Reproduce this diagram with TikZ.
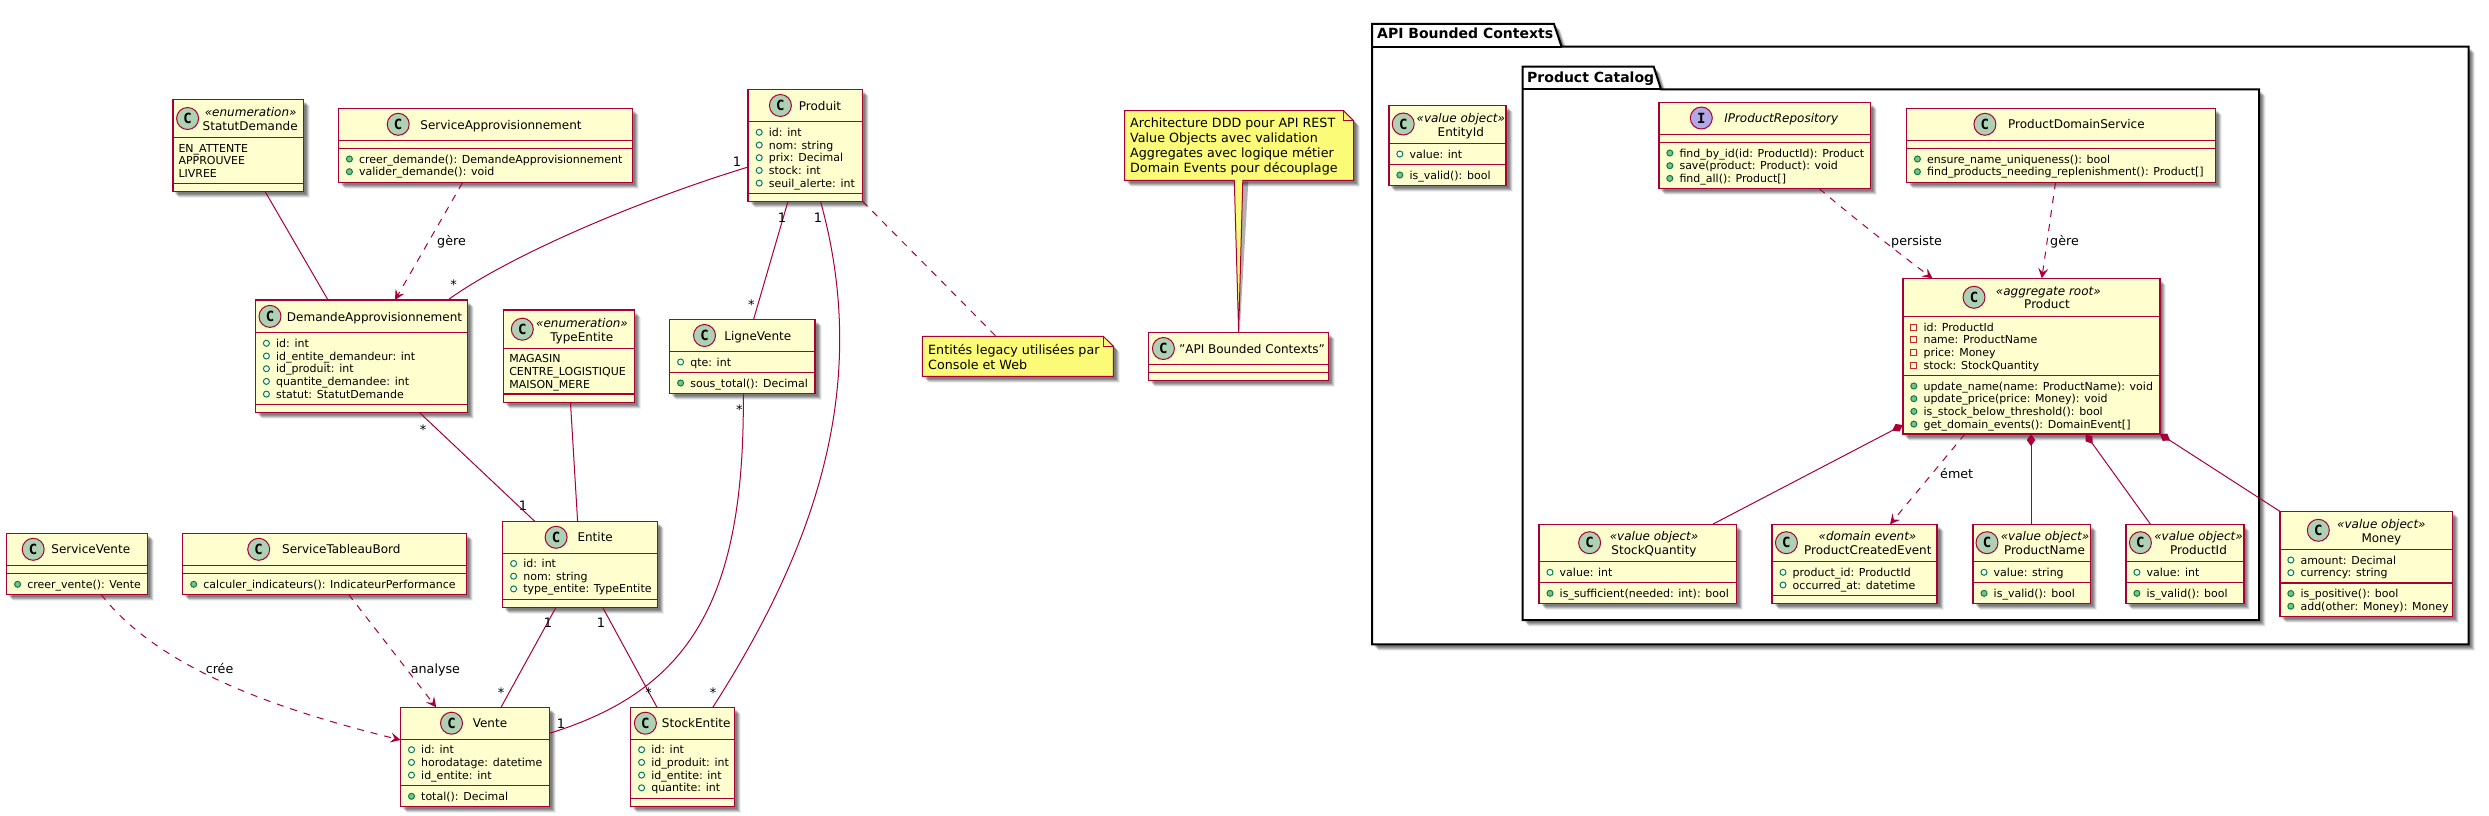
\documentclass[tikz,border=0pt]{standalone}
\usepackage{fontspec}
\setmainfont{DejaVu Sans}
\newfontfamily\monof{DejaVu Sans Mono}
\usetikzlibrary{arrows.meta,shadows,calc}
\definecolor{umlred}{HTML}{A80036}
\definecolor{umlfill}{HTML}{FEFECE}
\definecolor{umlcirc}{HTML}{ADD1B2}
\definecolor{umlifc}{HTML}{B4A7E5}
\definecolor{umlnote}{HTML}{FBFB77}
\definecolor{icong}{HTML}{038048}
\definecolor{iconm}{HTML}{84BE84}
\definecolor{iconp}{HTML}{C82930}
\newcount\rowcnt
\newcount\rowid
\def\rowx{0}\def\rowy{0}
\tikzset{
 softshadow/.style={
  general shadow={shadow xshift=2.5pt,shadow yshift=-2.5pt,fill=black,opacity=.14},
  general shadow={shadow xshift=3.5pt,shadow yshift=-3.5pt,fill=black,opacity=.16},
  general shadow={shadow xshift=4.5pt,shadow yshift=-4.5pt,fill=black,opacity=.16},
  general shadow={shadow xshift=5.5pt,shadow yshift=-5.5pt,fill=black,opacity=.12},
  general shadow={shadow xshift=6.5pt,shadow yshift=-6.5pt,fill=black,opacity=.06}},
 classbox/.style={rectangle,draw=umlred,fill=umlfill,line width=1.5pt,inner sep=0pt,outer sep=0pt,anchor=north west,softshadow},
 sepline/.style={draw=umlred,line width=1.5pt},
 badge/.style={circle,draw=umlred,line width=1pt,minimum size=22pt,inner sep=0pt,font=\monof\bfseries\fontsize{14}{14}\selectfont},
 nametext/.style={anchor=base,inner sep=0pt,font=\fontsize{12}{14}\selectfont},
 stereotext/.style={anchor=base,inner sep=0pt,font=\itshape\fontsize{12}{14}\selectfont},
 rowtext/.style={anchor=base west,inner sep=0pt,font=\fontsize{11}{13}\selectfont},
 linktext/.style={anchor=base west,inner sep=0pt,font=\fontsize{12.7}{15}\selectfont},
 multtext/.style={anchor=center,inner sep=0pt,font=\fontsize{13}{15}\selectfont},
 notetext/.style={anchor=base west,inner sep=0pt,font=\fontsize{12.7}{15}\selectfont},
 pkgtext/.style={anchor=base west,inner sep=0pt,font=\bfseries\fontsize{14}{16}\selectfont},
 pkgshape/.style={draw=black,line width=2pt,fill=white,softshadow},
 noteshape/.style={draw=umlred,line width=1pt,fill=umlnote,softshadow},
 assoc/.style={draw=umlred,line width=1pt},
 depend/.style={draw=umlred,line width=1pt,dash pattern=on 7pt off 7pt,-{Stealth[length=10pt,width=10pt,inset=4pt,fill=umlred,sep=0pt]}},
 notelink/.style={draw=umlred,line width=1pt,dash pattern=on 7pt off 7pt},
 compo/.style={draw=umlred,line width=1pt,{Diamond[length=12pt,width=8.5pt,fill=umlred]}-},
}
% id x1 y1 x2 y2 sep1 sep2
\newcommand\clsbox[7]{%
 \node[classbox,minimum width={(#4-#2)*1pt},minimum height={(#5-#3)*1pt}] (#1) at (#2,#3) {};
 \draw[sepline] (#2,#6) -- (#4,#6);
 \draw[sepline] (#2,#7) -- (#4,#7);
}
% id cx cy tx ty name
\newcommand\clshead[6]{%
 \node[badge,fill=umlcirc] (#1c) at (#2,#3) {C};
 \node[nametext] (#1n) at (#4,#5+4.5) {#6};
}
% id x y text
\newcommand\clsster[4]{\node[stereotext] (#1s) at (#2,#3+4.5) {#4};}
\newcommand\startrows[2]{\def\rowx{#1}\def\rowy{#2}\rowcnt=0 }
\newcommand\nextrow{\global\advance\rowid by 1 \advance\rowcnt by 1 }
\newcommand\rowF[1]{%
 \node[circle,draw=icong,fill=white,line width=1pt,minimum size=6pt,inner sep=0pt] (ic\the\rowid) at (\rowx+11,\rowy+12.7*\the\rowcnt) {};
 \node[rowtext] (rw\the\rowid) at (\rowx+20.5,\rowy+4+12.7*\the\rowcnt) {#1};\nextrow}
\newcommand\rowM[1]{%
 \node[circle,draw=icong,fill=iconm,line width=1pt,minimum size=6pt,inner sep=0pt] (ic\the\rowid) at (\rowx+11,\rowy+12.7*\the\rowcnt) {};
 \node[rowtext] (rw\the\rowid) at (\rowx+20.5,\rowy+4+12.7*\the\rowcnt) {#1};\nextrow}
\newcommand\rowP[1]{%
 \node[rectangle,draw=iconp,fill=none,line width=1pt,minimum size=6pt,inner sep=0pt] (ic\the\rowid) at (\rowx+10.5,\rowy+12.7*\the\rowcnt) {};
 \node[rowtext] (rw\the\rowid) at (\rowx+20.5,\rowy+4+12.7*\the\rowcnt) {#1};\nextrow}
\newcommand\rowE[1]{%
 \node[rowtext] (rw\the\rowid) at (\rowx+5.5,\rowy+4+12.7*\the\rowcnt) {#1};\nextrow}
\begin{document}
\begin{tikzpicture}[x=1pt,y=-1pt]
\path[fill=white,use as bounding box] (0,0) rectangle (2489,816);

% ---------- packages
\draw[pkgshape] (1372,46.7) -- (1372,24) -- (1554,24) -- (1561.6,46.7) -- (2468.7,46.7) -- (2468.7,644.3) -- (1372,644.3) -- cycle;
\draw[black,line width=2pt] (1372,46.7) -- (1561.6,46.7);
\node[pkgtext] (pkgouter) at (1377,39) {API Bounded Contexts};
\draw[pkgshape] (1522.7,89.3) -- (1522.7,66.7) -- (1653.7,66.7) -- (1661,89.3) -- (2259,89.3) -- (2259,620) -- (1522.7,620) -- cycle;
\draw[black,line width=2pt] (1522.7,89.3) -- (1661,89.3);
\node[pkgtext] (pkginner) at (1527,82) {Product Catalog};

% ---------- legacy classes
\clsbox{statut}{172.8}{99.3}{303.6}{191.7}{137.7}{183.3}
\clshead{statut}{187.6}{118.5}{250.2}{125.7}{StatutDemande}
\clsster{statut}{250.7}{111.7}{«enumeration»}
\startrows{172.8}{148}\rowE{EN\_ATTENTE}\rowE{APPROUVEE}\rowE{LIVREE}

\clsbox{sappro}{338.4}{108.3}{632.6}{182.7}{140.3}{148.3}
\clshead{sappro}{398.2}{124.3}{501}{124.5}{ServiceApprovisionnement}
\startrows{338.4}{159}\rowM{creer\_demande(): DemandeApprovisionnement}\rowM{valider\_demande(): void}

\clsbox{demande}{255.4}{300}{467.4}{412.7}{332.7}{404.3}
\clshead{demande}{270}{316.4}{374.5}{316.5}{DemandeApprovisionnement}
\startrows{255.4}{343.3}\rowF{id: int}\rowF{id\_entite\_demandeur: int}\rowF{id\_produit: int}\rowF{quantite\_demandee: int}\rowF{statut: StatutDemande}

\clsbox{typeent}{503.6}{310}{634.4}{402.7}{348.3}{394}
\clshead{typeent}{522.3}{329.2}{581.7}{336.7}{TypeEntite}
\clsster{typeent}{582}{322.7}{«enumeration»}
\startrows{503.6}{358.7}\rowE{MAGASIN}\rowE{CENTRE\_LOGISTIQUE}\rowE{MAISON\_MERE}

\clsbox{ligne}{669.6}{319.3}{815.2}{393.3}{351.7}{372.7}
\clshead{ligne}{704.5}{335.5}{757.8}{335.5}{LigneVente}
\startrows{669.6}{362}\rowF{qte: int}
\startrows{669.6}{383}\rowM{sous\_total(): Decimal}

\clsbox{produit}{748.2}{89.3}{862.5}{201.3}{121.7}{193.3}
\clshead{produit}{780.4}{105.5}{820}{105.5}{Produit}
\startrows{748.2}{132.3}\rowF{id: int}\rowF{nom: string}\rowF{prix: Decimal}\rowF{stock: int}\rowF{seuil\_alerte: int}

\clsbox{entite}{502.6}{521.3}{657.7}{607.3}{553.3}{599.7}
\clshead{entite}{556.1}{537.3}{595.2}{537.3}{Entite}
\startrows{502.6}{563.5}\rowF{id: int}\rowF{nom: string}\rowF{type\_entite: TypeEntite}

\clsbox{vente}{400.5}{707.3}{549.5}{806.3}{739.3}{785.7}
\clshead{vente}{451.5}{723.2}{490}{723.2}{Vente}
\startrows{400.5}{749.7}\rowF{id: int}\rowF{horodatage: datetime}\rowF{id\_entite: int}
\startrows{400.5}{796.3}\rowM{total(): Decimal}

\clsbox{stock}{630.6}{707.3}{734.7}{806.3}{739.3}{798.3}
\clshead{stock}{645.4}{723.2}{696.2}{723.2}{StockEntite}
\startrows{630.6}{749.7}\rowF{id: int}\rowF{id\_produit: int}\rowF{id\_entite: int}\rowF{quantite: int}

\clsbox{svente}{6.6}{533.3}{147.4}{594.3}{565.3}{573.7}
\clshead{svente}{33.2}{549.3}{90.8}{549.3}{ServiceVente}
\startrows{6.6}{584.3}\rowM{creer\_vente(): Vente}

\clsbox{stab}{182.7}{533.3}{466.3}{594.3}{565.3}{573.7}
\clshead{stab}{258.7}{549.3}{341.3}{549.3}{ServiceTableauBord}
\startrows{182.7}{584.3}\rowM{calculer\_indicateurs(): IndicateurPerformance}

\clsbox{api}{1148.7}{332.3}{1328.6}{380.3}{364.3}{372.3}
\clshead{api}{1163.4}{348.5}{1252}{348.5}{"API Bounded Contexts"}

% ---------- notes
\path[noteshape] (1124.6,110.7) -- (1343.5,110.7) -- (1353.6,120.7) -- (1353.6,180.3) -- (1124.6,180.3) -- cycle;
\draw[draw=umlred,line width=1pt] (1343.5,110.7) -- (1343.5,120.7) -- (1353.6,120.7);
\node[inner sep=0pt,minimum width=229pt,minimum height=69.6pt,anchor=north west] (noteb) at (1124.6,110.7) {};
\path[noteshape] (922.3,336.3) -- (1103.3,336.3) -- (1113.4,346.3) -- (1113.4,376.3) -- (922.3,376.3) -- cycle;
\draw[draw=umlred,line width=1pt] (1103.3,336.3) -- (1103.3,346.3) -- (1113.4,346.3);
\node[inner sep=0pt,minimum width=191.1pt,minimum height=40pt,anchor=north west] (notea) at (922.3,336.3) {};
\path[fill=black,opacity=.3] ([xshift=0pt,yshift=-1pt]noteb.south) -- ([xshift=1pt]api.north) -- ([xshift=9pt,yshift=-1pt]noteb.south) -- cycle;
\draw[draw=umlred,line width=1pt,fill=umlnote] ([xshift=-5pt]noteb.south) -- (api.north) -- ([xshift=3.5pt]noteb.south);
\path[fill=umlnote] ([xshift=-4.4pt,yshift=1.4pt]noteb.south) rectangle ([xshift=2.9pt,yshift=-1pt]noteb.south);
\node[notetext] (nb1) at (1130,127.4) {Architecture DDD pour API REST};
\node[notetext] (nb2) at (1130,142.4) {Value Objects avec validation};
\node[notetext] (nb3) at (1130,157.4) {Aggregates avec logique métier};
\node[notetext] (nb4) at (1130,172.4) {Domain Events pour découplage};
\node[notetext] (na1) at (928,354.4) {Entités legacy utilisées par};
\node[notetext] (na2) at (928,369.4) {Console et Web};

% ---------- DDD classes
\clsbox{eid}{1388.8}{105.3}{1506}{185.3}{143.7}{164.3}
\clshead{eid}{1403.2}{124}{1460.8}{131.7}{EntityId}
\clsster{eid}{1460.8}{117.7}{«value object»}
\startrows{1388.8}{154}\rowF{value: int}
\startrows{1388.8}{175}\rowM{is\_valid(): bool}

\clsbox{irepo}{1658.8}{102.3}{1870.4}{188.7}{134.3}{142.3}
\node[badge,fill=umlifc] (irepoc) at (1701.3,118) {I};
\node[stereotext] (irepon) at (1781.2,122.5) {IProductRepository};
\startrows{1658.8}{153}\rowM{find\_by\_id(id: ProductId): Product}\rowM{save(product: Product): void}\rowM{find\_all(): Product[]}

\clsbox{pds}{1906.4}{108.3}{2215.3}{182.3}{140.3}{148.3}
\clshead{pds}{1984.9}{124.3}{2076.4}{124.3}{ProductDomainService}
\startrows{1906.4}{159}\rowM{ensure\_name\_uniqueness(): bool}\rowM{find\_products\_needing\_replenishment(): Product[]}

\clsbox{prod}{1902.8}{278.3}{2159.9}{434}{316.3}{375.3}
\clshead{prod}{1974}{297.3}{2047}{304.3}{Product}
\clsster{prod}{2048.3}{291}{«aggregate root»}
\startrows{1902.8}{327}\rowP{id: ProductId}\rowP{name: ProductName}\rowP{price: Money}\rowP{stock: StockQuantity}
\startrows{1902.8}{386}\rowM{update\_name(name: ProductName): void}\rowM{update\_price(price: Money): void}\rowM{is\_stock\_below\_threshold(): bool}\rowM{get\_domain\_events(): DomainEvent[]}

\clsbox{sq}{1539}{524.3}{1736.6}{603.3}{561.7}{582.3}
\clshead{sq}{1589.6}{542.7}{1654}{550}{StockQuantity}
\clsster{sq}{1654}{535.7}{«value object»}
\startrows{1539}{572.3}\rowF{value: int}
\startrows{1539}{593.3}\rowM{is\_sufficient(needed: int): bool}

\clsbox{pce}{1772}{524.3}{1937}{603.3}{561.7}{595.3}
\clshead{pce}{1786.4}{542.7}{1867.8}{550}{ProductCreatedEvent}
\clsster{pce}{1867.5}{535.7}{«domain event»}
\startrows{1772}{572.3}\rowF{product\_id: ProductId}\rowF{occurred\_at: datetime}

\clsbox{pn}{1973}{524.3}{2090.5}{603.3}{561.7}{582.3}
\clshead{pn}{1987}{542.7}{2044.5}{550}{ProductName}
\clsster{pn}{2045}{535.7}{«value object»}
\startrows{1973}{572.3}\rowF{value: string}
\startrows{1973}{593.3}\rowM{is\_valid(): bool}

\clsbox{pi}{2125.9}{524.3}{2243.8}{603.3}{561.7}{582.3}
\clshead{pi}{2140.4}{542.7}{2198.5}{550}{ProductId}
\clsster{pi}{2198.5}{535.7}{«value object»}
\startrows{2125.9}{572.3}\rowF{value: int}
\startrows{2125.9}{593.3}\rowM{is\_valid(): bool}

\clsbox{money}{2279.8}{511.3}{2452.7}{616.3}{549.3}{583}
\clshead{money}{2318.3}{530.3}{2381.4}{538}{Money}
\clsster{money}{2381.4}{523.7}{«value object»}
\startrows{2279.8}{560}\rowF{amount: Decimal}\rowF{currency: string}
\startrows{2279.8}{593.5}\rowM{is\_positive(): bool}\rowM{add(other: Money): Money}

% ---------- connectors
\draw[assoc] ([xshift=92.4pt]statut.south west) -- ([xshift=72.6pt]demande.north west);
\draw[depend] ([xshift=124.1pt]sappro.south west) -- ([xshift=139.6pt]demande.north west);
\draw[assoc] ([yshift=-77.7pt]produit.north west) .. controls (640,200) and (510,255) .. ([xshift=192.4pt]demande.north west);
\draw[assoc] ([xshift=164.2pt]demande.south west) -- ([xshift=32.1pt]entite.north west);
\draw[assoc] ([xshift=66.9pt]typeent.south west) -- ([xshift=75pt]entite.north west);
\draw[assoc] ([xshift=53.4pt]entite.south west) -- ([xshift=100.5pt]vente.north west);
\draw[assoc] ([xshift=100pt]entite.south west) -- ([xshift=26.4pt]stock.north west);
\draw[assoc] ([xshift=39.8pt]produit.south west) -- ([xshift=84pt]ligne.north west);
\draw[assoc] ([xshift=73.7pt]ligne.south west) .. controls (745,600) and (690,690) .. ([yshift=-26pt]vente.north east);
\draw[assoc] ([xshift=72.3pt]produit.south west) .. controls (870,380) and (820,540) .. ([xshift=82.2pt]stock.north west);
\draw[notelink] (produit.south east) -- ([xshift=73.7pt]notea.north west);
\draw[depend] ([xshift=94.4pt]svente.south west) .. controls (160,670) and (280,710) .. ([yshift=-32.7pt]vente.north west);
\draw[depend] ([xshift=165.8pt]stab.south west) -- ([xshift=35.7pt]vente.north west);
\draw[depend] ([xshift=160.5pt]irepo.south west) .. controls (1850,215) and (1905,258) .. ([xshift=29.6pt]prod.north west);
\draw[depend] ([xshift=149.1pt]pds.south west) -- ([xshift=139pt]prod.north west);
\draw[compo] ([yshift=-146.7pt]prod.north west) -- ([xshift=173.6pt]sq.north west);
\draw[depend] ([xshift=62.2pt]prod.south west) -- ([xshift=118pt]pce.north west);
\draw[compo] ([xshift=128.2pt]prod.south west) -- ([xshift=58pt]pn.north west);
\draw[compo] ([xshift=182.7pt]prod.south west) -- ([xshift=24.6pt]pi.north west);
\draw[compo] (prod.south east) -- (money.north west);

% ---------- connector labels
\node[linktext] (lb1) at (437,245.5) {gère};
\node[linktext] (lb2) at (205.6,673) {crée};
\node[linktext] (lb3) at (410.7,673) {analyse};
\node[linktext] (lb4) at (1891,245) {persiste};
\node[linktext] (lb5) at (2050,245) {gère};
\node[linktext] (lb6) at (1940,478.5) {émet};
\node[multtext] (m1) at (737,161.7) {1};
\node[multtext] (m2) at (453.6,285) {*};
\node[multtext] (m3) at (423,429.5) {*};
\node[multtext] (m4) at (523,505.7) {1};
\node[multtext] (m5) at (548,622.7) {1};
\node[multtext] (m6) at (501,692.7) {*};
\node[multtext] (m7) at (601,622.7) {1};
\node[multtext] (m8) at (648.5,692.7) {*};
\node[multtext] (m9) at (782,217.7) {1};
\node[multtext] (m10) at (751.3,304.7) {*};
\node[multtext] (m11) at (739.3,409.7) {*};
\node[multtext] (m12) at (561,723.7) {1};
\node[multtext] (m13) at (817.9,217.7) {1};
\node[multtext] (m14) at (713,692.7) {*};
\end{tikzpicture}
\end{document}
